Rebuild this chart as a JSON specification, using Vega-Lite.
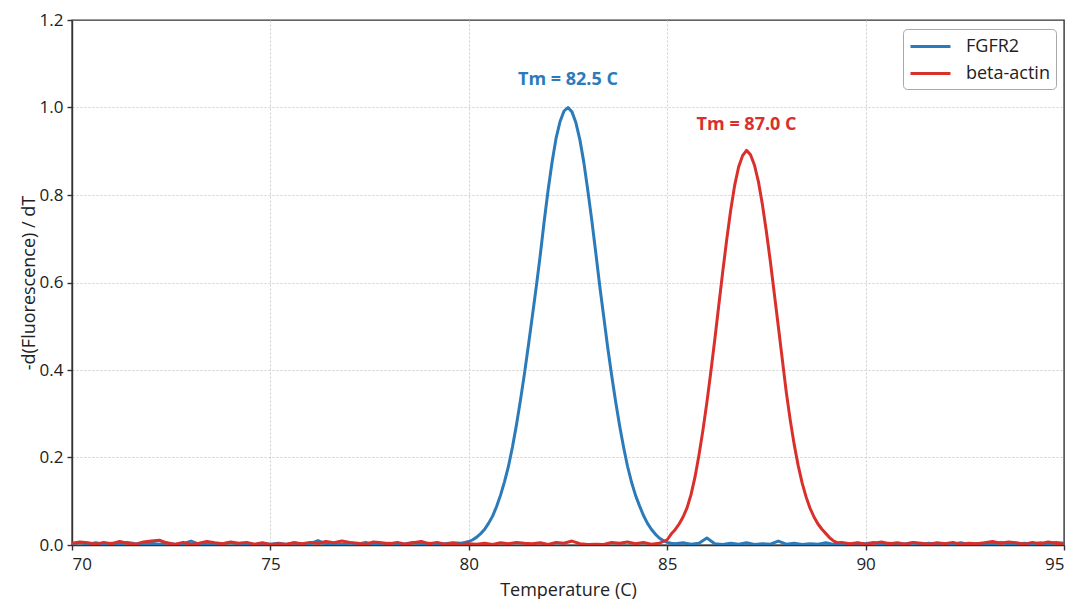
{
"$schema": "https://vega.github.io/schema/vega-lite/v6.json",
"width": 992,
"height": 525,
"autosize": {"type": "none"},
"padding": {"left": 72, "top": 20, "right": 14, "bottom": 54},
"background": "#ffffff",
"config": {
  "font": "Open Sans",
  "view": {"stroke": "#333333", "strokeWidth": 1.4},
  "axis": {
    "gridColor": "#cfcfcf", "gridDash": [2, 2], "gridWidth": 1,
    "domainColor": "#333333", "domainWidth": 1.4,
    "tickColor": "#333333", "tickSize": 5, "tickWidth": 1.4,
    "labelFontSize": 17, "labelColor": "#222222", "labelFont": "Open Sans",
    "titleFontSize": 18, "titleFontWeight": "normal", "titleColor": "#222222", "titleFont": "Open Sans"
  }
},
"layer": [
  {
    "data": {"values": [
{"T":70.0,"v":0.003,"s":"FGFR2"},{"T":70.2,"v":0.006,"s":"FGFR2"},{"T":70.4,"v":0.002,"s":"FGFR2"},{"T":70.6,"v":0.005,"s":"FGFR2"},{"T":70.8,"v":0.001,"s":"FGFR2"},
{"T":71.0,"v":0.004,"s":"FGFR2"},{"T":71.2,"v":0.002,"s":"FGFR2"},{"T":71.4,"v":0.006,"s":"FGFR2"},{"T":71.6,"v":0.003,"s":"FGFR2"},{"T":71.8,"v":0.001,"s":"FGFR2"},
{"T":72.0,"v":0.004,"s":"FGFR2"},{"T":72.2,"v":0.002,"s":"FGFR2"},{"T":72.4,"v":0.005,"s":"FGFR2"},{"T":72.6,"v":0.001,"s":"FGFR2"},{"T":72.8,"v":0.003,"s":"FGFR2"},
{"T":73.0,"v":0.009,"s":"FGFR2"},{"T":73.2,"v":0.002,"s":"FGFR2"},{"T":73.4,"v":0.004,"s":"FGFR2"},{"T":73.6,"v":0.001,"s":"FGFR2"},{"T":73.8,"v":0.003,"s":"FGFR2"},
{"T":74.0,"v":0.006,"s":"FGFR2"},{"T":74.2,"v":0.002,"s":"FGFR2"},{"T":74.4,"v":0.004,"s":"FGFR2"},{"T":74.6,"v":0.001,"s":"FGFR2"},{"T":74.8,"v":0.003,"s":"FGFR2"},
{"T":75.0,"v":0.002,"s":"FGFR2"},{"T":75.2,"v":0.004,"s":"FGFR2"},{"T":75.4,"v":0.001,"s":"FGFR2"},{"T":75.6,"v":0.005,"s":"FGFR2"},{"T":75.8,"v":0.002,"s":"FGFR2"},
{"T":76.0,"v":0.003,"s":"FGFR2"},{"T":76.2,"v":0.010,"s":"FGFR2"},{"T":76.4,"v":0.002,"s":"FGFR2"},{"T":76.6,"v":0.004,"s":"FGFR2"},{"T":76.8,"v":0.001,"s":"FGFR2"},
{"T":77.0,"v":0.005,"s":"FGFR2"},{"T":77.2,"v":0.002,"s":"FGFR2"},{"T":77.4,"v":0.006,"s":"FGFR2"},{"T":77.6,"v":0.001,"s":"FGFR2"},{"T":77.8,"v":0.003,"s":"FGFR2"},
{"T":78.0,"v":0.004,"s":"FGFR2"},{"T":78.2,"v":0.001,"s":"FGFR2"},{"T":78.4,"v":0.003,"s":"FGFR2"},{"T":78.6,"v":0.006,"s":"FGFR2"},{"T":78.8,"v":0.002,"s":"FGFR2"},
{"T":79.0,"v":0.004,"s":"FGFR2"},{"T":79.2,"v":0.001,"s":"FGFR2"},{"T":79.4,"v":0.003,"s":"FGFR2"},{"T":79.6,"v":0.005,"s":"FGFR2"},{"T":79.8,"v":0.004,"s":"FGFR2"},
{"T":79.9,"v":0.006,"s":"FGFR2"},{"T":80.0,"v":0.008,"s":"FGFR2"},{"T":80.1,"v":0.012,"s":"FGFR2"},{"T":80.2,"v":0.018,"s":"FGFR2"},{"T":80.3,"v":0.026,"s":"FGFR2"},
{"T":80.4,"v":0.036,"s":"FGFR2"},{"T":80.5,"v":0.050,"s":"FGFR2"},{"T":80.6,"v":0.066,"s":"FGFR2"},{"T":80.7,"v":0.088,"s":"FGFR2"},{"T":80.8,"v":0.114,"s":"FGFR2"},
{"T":80.9,"v":0.145,"s":"FGFR2"},{"T":81.0,"v":0.180,"s":"FGFR2"},{"T":81.1,"v":0.224,"s":"FGFR2"},{"T":81.2,"v":0.274,"s":"FGFR2"},{"T":81.3,"v":0.330,"s":"FGFR2"},
{"T":81.4,"v":0.390,"s":"FGFR2"},{"T":81.5,"v":0.455,"s":"FGFR2"},{"T":81.6,"v":0.522,"s":"FGFR2"},{"T":81.7,"v":0.590,"s":"FGFR2"},{"T":81.8,"v":0.662,"s":"FGFR2"},
{"T":81.9,"v":0.740,"s":"FGFR2"},{"T":82.0,"v":0.812,"s":"FGFR2"},{"T":82.1,"v":0.876,"s":"FGFR2"},{"T":82.2,"v":0.930,"s":"FGFR2"},{"T":82.3,"v":0.968,"s":"FGFR2"},
{"T":82.4,"v":0.992,"s":"FGFR2"},{"T":82.5,"v":1.000,"s":"FGFR2"},{"T":82.6,"v":0.990,"s":"FGFR2"},{"T":82.7,"v":0.965,"s":"FGFR2"},{"T":82.8,"v":0.926,"s":"FGFR2"},
{"T":82.9,"v":0.874,"s":"FGFR2"},{"T":83.0,"v":0.810,"s":"FGFR2"},{"T":83.1,"v":0.742,"s":"FGFR2"},{"T":83.2,"v":0.668,"s":"FGFR2"},{"T":83.3,"v":0.592,"s":"FGFR2"},
{"T":83.4,"v":0.522,"s":"FGFR2"},{"T":83.5,"v":0.452,"s":"FGFR2"},{"T":83.6,"v":0.388,"s":"FGFR2"},{"T":83.7,"v":0.328,"s":"FGFR2"},{"T":83.8,"v":0.273,"s":"FGFR2"},
{"T":83.9,"v":0.224,"s":"FGFR2"},{"T":84.0,"v":0.180,"s":"FGFR2"},{"T":84.1,"v":0.144,"s":"FGFR2"},{"T":84.2,"v":0.114,"s":"FGFR2"},{"T":84.3,"v":0.090,"s":"FGFR2"},
{"T":84.4,"v":0.068,"s":"FGFR2"},{"T":84.5,"v":0.050,"s":"FGFR2"},{"T":84.6,"v":0.036,"s":"FGFR2"},{"T":84.7,"v":0.025,"s":"FGFR2"},{"T":84.8,"v":0.016,"s":"FGFR2"},
{"T":84.9,"v":0.010,"s":"FGFR2"},{"T":85.0,"v":0.006,"s":"FGFR2"},{"T":85.1,"v":0.004,"s":"FGFR2"},
{"T":85.2,"v":0.003,"s":"FGFR2"},{"T":85.4,"v":0.005,"s":"FGFR2"},{"T":85.6,"v":0.002,"s":"FGFR2"},{"T":85.8,"v":0.004,"s":"FGFR2"},{"T":86.0,"v":0.016,"s":"FGFR2"},
{"T":86.2,"v":0.003,"s":"FGFR2"},{"T":86.4,"v":0.001,"s":"FGFR2"},{"T":86.6,"v":0.004,"s":"FGFR2"},{"T":86.8,"v":0.002,"s":"FGFR2"},{"T":87.0,"v":0.005,"s":"FGFR2"},
{"T":87.2,"v":0.001,"s":"FGFR2"},{"T":87.4,"v":0.003,"s":"FGFR2"},{"T":87.6,"v":0.002,"s":"FGFR2"},{"T":87.8,"v":0.009,"s":"FGFR2"},{"T":88.0,"v":0.002,"s":"FGFR2"},
{"T":88.2,"v":0.004,"s":"FGFR2"},{"T":88.4,"v":0.001,"s":"FGFR2"},{"T":88.6,"v":0.003,"s":"FGFR2"},{"T":88.8,"v":0.002,"s":"FGFR2"},{"T":89.0,"v":0.005,"s":"FGFR2"},
{"T":89.2,"v":0.001,"s":"FGFR2"},{"T":89.4,"v":0.003,"s":"FGFR2"},{"T":89.6,"v":0.002,"s":"FGFR2"},{"T":89.8,"v":0.004,"s":"FGFR2"},{"T":90.0,"v":0.003,"s":"FGFR2"},
{"T":90.2,"v":0.006,"s":"FGFR2"},{"T":90.4,"v":0.002,"s":"FGFR2"},{"T":90.6,"v":0.004,"s":"FGFR2"},{"T":90.8,"v":0.001,"s":"FGFR2"},{"T":91.0,"v":0.003,"s":"FGFR2"},
{"T":91.2,"v":0.005,"s":"FGFR2"},{"T":91.4,"v":0.002,"s":"FGFR2"},{"T":91.6,"v":0.004,"s":"FGFR2"},{"T":91.8,"v":0.001,"s":"FGFR2"},{"T":92.0,"v":0.003,"s":"FGFR2"},
{"T":92.2,"v":0.002,"s":"FGFR2"},{"T":92.4,"v":0.005,"s":"FGFR2"},{"T":92.6,"v":0.001,"s":"FGFR2"},{"T":92.8,"v":0.003,"s":"FGFR2"},{"T":93.0,"v":0.004,"s":"FGFR2"},
{"T":93.2,"v":0.002,"s":"FGFR2"},{"T":93.4,"v":0.006,"s":"FGFR2"},{"T":93.6,"v":0.003,"s":"FGFR2"},{"T":93.8,"v":0.001,"s":"FGFR2"},{"T":94.0,"v":0.004,"s":"FGFR2"},
{"T":94.2,"v":0.002,"s":"FGFR2"},{"T":94.4,"v":0.005,"s":"FGFR2"},{"T":94.6,"v":0.002,"s":"FGFR2"},{"T":94.8,"v":0.006,"s":"FGFR2"},{"T":95.0,"v":0.004,"s":"FGFR2"},
{"T":70.0,"v":0.004,"s":"beta-actin"},{"T":70.2,"v":0.007,"s":"beta-actin"},{"T":70.4,"v":0.005,"s":"beta-actin"},{"T":70.6,"v":0.002,"s":"beta-actin"},{"T":70.8,"v":0.006,"s":"beta-actin"},
{"T":71.0,"v":0.003,"s":"beta-actin"},{"T":71.2,"v":0.008,"s":"beta-actin"},{"T":71.4,"v":0.004,"s":"beta-actin"},{"T":71.6,"v":0.002,"s":"beta-actin"},{"T":71.8,"v":0.007,"s":"beta-actin"},
{"T":72.0,"v":0.009,"s":"beta-actin"},{"T":72.2,"v":0.011,"s":"beta-actin"},{"T":72.4,"v":0.004,"s":"beta-actin"},{"T":72.6,"v":0.002,"s":"beta-actin"},{"T":72.8,"v":0.006,"s":"beta-actin"},
{"T":73.0,"v":0.001,"s":"beta-actin"},{"T":73.2,"v":0.004,"s":"beta-actin"},{"T":73.4,"v":0.008,"s":"beta-actin"},{"T":73.6,"v":0.005,"s":"beta-actin"},{"T":73.8,"v":0.003,"s":"beta-actin"},
{"T":74.0,"v":0.007,"s":"beta-actin"},{"T":74.2,"v":0.004,"s":"beta-actin"},{"T":74.4,"v":0.006,"s":"beta-actin"},{"T":74.6,"v":0.002,"s":"beta-actin"},{"T":74.8,"v":0.005,"s":"beta-actin"},
{"T":75.0,"v":0.001,"s":"beta-actin"},{"T":75.2,"v":0.003,"s":"beta-actin"},{"T":75.4,"v":0.002,"s":"beta-actin"},{"T":75.6,"v":0.005,"s":"beta-actin"},{"T":75.8,"v":0.003,"s":"beta-actin"},
{"T":76.0,"v":0.006,"s":"beta-actin"},{"T":76.2,"v":0.004,"s":"beta-actin"},{"T":76.4,"v":0.008,"s":"beta-actin"},{"T":76.6,"v":0.005,"s":"beta-actin"},{"T":76.8,"v":0.009,"s":"beta-actin"},
{"T":77.0,"v":0.006,"s":"beta-actin"},{"T":77.2,"v":0.004,"s":"beta-actin"},{"T":77.4,"v":0.002,"s":"beta-actin"},{"T":77.6,"v":0.007,"s":"beta-actin"},{"T":77.8,"v":0.005,"s":"beta-actin"},
{"T":78.0,"v":0.003,"s":"beta-actin"},{"T":78.2,"v":0.006,"s":"beta-actin"},{"T":78.4,"v":0.002,"s":"beta-actin"},{"T":78.6,"v":0.005,"s":"beta-actin"},{"T":78.8,"v":0.008,"s":"beta-actin"},
{"T":79.0,"v":0.003,"s":"beta-actin"},{"T":79.2,"v":0.006,"s":"beta-actin"},{"T":79.4,"v":0.002,"s":"beta-actin"},{"T":79.6,"v":0.004,"s":"beta-actin"},{"T":79.8,"v":0.001,"s":"beta-actin"},
{"T":80.0,"v":0.003,"s":"beta-actin"},{"T":80.2,"v":0.002,"s":"beta-actin"},{"T":80.4,"v":0.004,"s":"beta-actin"},{"T":80.6,"v":0.001,"s":"beta-actin"},{"T":80.8,"v":0.005,"s":"beta-actin"},
{"T":81.0,"v":0.003,"s":"beta-actin"},{"T":81.2,"v":0.006,"s":"beta-actin"},{"T":81.4,"v":0.004,"s":"beta-actin"},{"T":81.6,"v":0.003,"s":"beta-actin"},{"T":81.8,"v":0.005,"s":"beta-actin"},
{"T":82.0,"v":0.001,"s":"beta-actin"},{"T":82.2,"v":0.006,"s":"beta-actin"},{"T":82.4,"v":0.004,"s":"beta-actin"},{"T":82.6,"v":0.009,"s":"beta-actin"},{"T":82.8,"v":0.003,"s":"beta-actin"},
{"T":83.0,"v":0.001,"s":"beta-actin"},{"T":83.2,"v":0.002,"s":"beta-actin"},{"T":83.4,"v":0.001,"s":"beta-actin"},{"T":83.6,"v":0.006,"s":"beta-actin"},{"T":83.8,"v":0.004,"s":"beta-actin"},
{"T":84.0,"v":0.007,"s":"beta-actin"},{"T":84.2,"v":0.003,"s":"beta-actin"},{"T":84.4,"v":0.006,"s":"beta-actin"},{"T":84.6,"v":0.002,"s":"beta-actin"},{"T":84.8,"v":0.004,"s":"beta-actin"},
{"T":84.9,"v":0.008,"s":"beta-actin"},{"T":85.0,"v":0.012,"s":"beta-actin"},{"T":85.1,"v":0.025,"s":"beta-actin"},{"T":85.2,"v":0.035,"s":"beta-actin"},{"T":85.3,"v":0.048,"s":"beta-actin"},
{"T":85.4,"v":0.064,"s":"beta-actin"},{"T":85.5,"v":0.085,"s":"beta-actin"},{"T":85.6,"v":0.115,"s":"beta-actin"},{"T":85.7,"v":0.155,"s":"beta-actin"},{"T":85.8,"v":0.205,"s":"beta-actin"},
{"T":85.9,"v":0.262,"s":"beta-actin"},{"T":86.0,"v":0.326,"s":"beta-actin"},{"T":86.1,"v":0.396,"s":"beta-actin"},{"T":86.2,"v":0.470,"s":"beta-actin"},{"T":86.3,"v":0.548,"s":"beta-actin"},
{"T":86.4,"v":0.625,"s":"beta-actin"},{"T":86.5,"v":0.698,"s":"beta-actin"},{"T":86.6,"v":0.765,"s":"beta-actin"},{"T":86.7,"v":0.822,"s":"beta-actin"},{"T":86.8,"v":0.864,"s":"beta-actin"},
{"T":86.9,"v":0.890,"s":"beta-actin"},{"T":87.0,"v":0.902,"s":"beta-actin"},{"T":87.1,"v":0.892,"s":"beta-actin"},{"T":87.2,"v":0.868,"s":"beta-actin"},{"T":87.3,"v":0.830,"s":"beta-actin"},
{"T":87.4,"v":0.778,"s":"beta-actin"},{"T":87.5,"v":0.716,"s":"beta-actin"},{"T":87.6,"v":0.648,"s":"beta-actin"},{"T":87.7,"v":0.574,"s":"beta-actin"},{"T":87.8,"v":0.500,"s":"beta-actin"},
{"T":87.9,"v":0.425,"s":"beta-actin"},{"T":88.0,"v":0.350,"s":"beta-actin"},{"T":88.1,"v":0.286,"s":"beta-actin"},{"T":88.2,"v":0.230,"s":"beta-actin"},{"T":88.3,"v":0.182,"s":"beta-actin"},
{"T":88.4,"v":0.142,"s":"beta-actin"},{"T":88.5,"v":0.110,"s":"beta-actin"},{"T":88.6,"v":0.084,"s":"beta-actin"},{"T":88.7,"v":0.064,"s":"beta-actin"},{"T":88.8,"v":0.048,"s":"beta-actin"},
{"T":88.9,"v":0.036,"s":"beta-actin"},{"T":89.0,"v":0.026,"s":"beta-actin"},{"T":89.1,"v":0.016,"s":"beta-actin"},{"T":89.2,"v":0.009,"s":"beta-actin"},{"T":89.3,"v":0.005,"s":"beta-actin"},
{"T":89.4,"v":0.006,"s":"beta-actin"},{"T":89.6,"v":0.003,"s":"beta-actin"},{"T":89.8,"v":0.005,"s":"beta-actin"},{"T":90.0,"v":0.002,"s":"beta-actin"},{"T":90.2,"v":0.004,"s":"beta-actin"},
{"T":90.4,"v":0.007,"s":"beta-actin"},{"T":90.6,"v":0.003,"s":"beta-actin"},{"T":90.8,"v":0.005,"s":"beta-actin"},{"T":91.0,"v":0.002,"s":"beta-actin"},{"T":91.2,"v":0.006,"s":"beta-actin"},
{"T":91.4,"v":0.004,"s":"beta-actin"},{"T":91.6,"v":0.002,"s":"beta-actin"},{"T":91.8,"v":0.005,"s":"beta-actin"},{"T":92.0,"v":0.003,"s":"beta-actin"},{"T":92.2,"v":0.006,"s":"beta-actin"},
{"T":92.4,"v":0.002,"s":"beta-actin"},{"T":92.6,"v":0.004,"s":"beta-actin"},{"T":92.8,"v":0.003,"s":"beta-actin"},{"T":93.0,"v":0.005,"s":"beta-actin"},{"T":93.2,"v":0.008,"s":"beta-actin"},
{"T":93.4,"v":0.004,"s":"beta-actin"},{"T":93.6,"v":0.007,"s":"beta-actin"},{"T":93.8,"v":0.005,"s":"beta-actin"},{"T":94.0,"v":0.002,"s":"beta-actin"},{"T":94.2,"v":0.006,"s":"beta-actin"},
{"T":94.4,"v":0.003,"s":"beta-actin"},{"T":94.6,"v":0.007,"s":"beta-actin"},{"T":94.8,"v":0.004,"s":"beta-actin"},{"T":95.0,"v":0.002,"s":"beta-actin"}
    ]},
    "mark": {"type": "line", "strokeWidth": 3, "clip": true, "strokeJoin": "round"},
    "encoding": {
      "x": {"field": "T", "type": "quantitative", "scale": {"domain": [70, 95], "nice": false, "zero": false},
            "axis": {"values": [70, 75, 80, 85, 90, 95], "title": "Temperature (C)", "labelPadding": 6, "titlePadding": 9,
                     "gridOpacity": {"condition": {"test": "datum.value >= 95", "value": 0}, "value": 1}}},
      "y": {"field": "v", "type": "quantitative", "scale": {"domain": [0, 1.2], "nice": false},
            "axis": {"values": [0, 0.2, 0.4, 0.6, 0.8, 1.0, 1.2], "format": ".1f", "title": "-d(Fluorescence) / dT", "labelPadding": 4, "titlePadding": 1,
                     "gridOpacity": {"condition": {"test": "datum.value >= 1.2", "value": 0}, "value": 1}}},
      "color": {"field": "s", "type": "nominal",
                "scale": {"domain": ["FGFR2", "beta-actin"], "range": ["#2b7bba", "#d9302c"]},
                "legend": {"title": null, "orient": "none", "legendX": 831, "legendY": 9,
                           "fillColor": "#ffffff", "strokeColor": "#a8a8a8", "cornerRadius": 4, "padding": 6,
                           "symbolType": "M-1,0H3", "symbolSize": 400, "symbolStrokeWidth": 3,
                           "labelFontSize": 18, "labelColor": "#222222", "labelFont": "Open Sans", "labelOffset": 34, "rowPadding": 6}}
    }
  },
  {
    "data": {"values": [{"T": 82.5, "v": 1.064, "label": "Tm = 82.5 C"}]},
    "mark": {"type": "text", "fontWeight": "bold", "fontSize": 18, "color": "#2b7bba", "font": "Open Sans"},
    "encoding": {
      "x": {"field": "T", "type": "quantitative"},
      "y": {"field": "v", "type": "quantitative"},
      "text": {"field": "label"}
    }
  },
  {
    "data": {"values": [{"T": 87.0, "v": 0.96, "label": "Tm = 87.0 C"}]},
    "mark": {"type": "text", "fontWeight": "bold", "fontSize": 18, "color": "#d9302c", "font": "Open Sans"},
    "encoding": {
      "x": {"field": "T", "type": "quantitative"},
      "y": {"field": "v", "type": "quantitative"},
      "text": {"field": "label"}
    }
  }
]
}
